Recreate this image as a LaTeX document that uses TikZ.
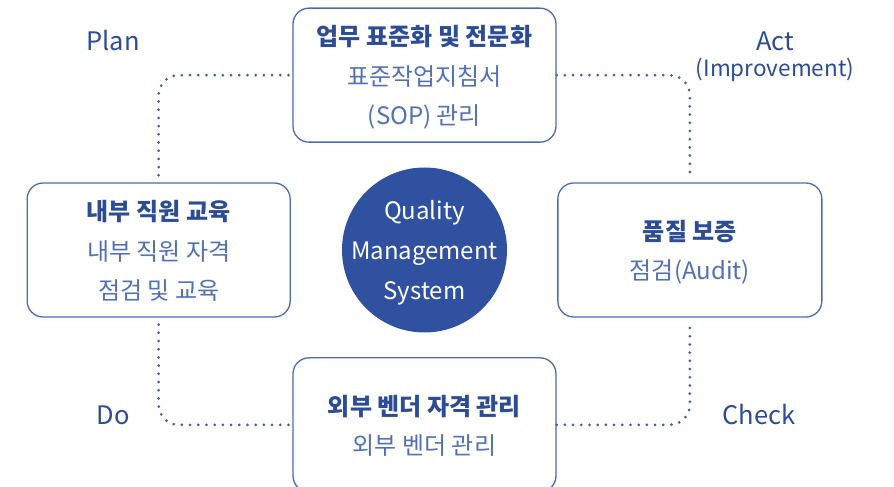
\documentclass[tikz,border=0pt]{standalone}
\usepackage{fontspec}
\setmainfont{Noto Sans CJK KR}
\usepackage{xcolor}
\usetikzlibrary{positioning}
\definecolor{qmsblue}{HTML}{2F51A0}
\definecolor{boxline}{HTML}{4A6BB2}
\definecolor{titletext}{HTML}{2C4C96}
\definecolor{subtext}{HTML}{5270B5}
\definecolor{dotblue}{HTML}{3D60AD}

\begin{document}
\begin{tikzpicture}[x=1pt,y=1pt,
  stage/.style={draw=boxline,line width=1.3pt,rounded corners=16pt,minimum width=263pt,minimum height=134pt,align=center,text=subtext,text depth=-1pt,font=\fontsize{24}{39.5}\selectfont},
  dotline/.style={draw=dotblue,line width=3pt,line cap=round,dash pattern=on 0pt off 8.2pt,rounded corners=20pt},
  phase/.style={text=titletext,font=\fontsize{25.5}{28}\selectfont}]
  \useasboundingbox (0,0) rectangle (894,487);
  % Centre
  \node (qms) [circle,fill=qmsblue,minimum size=165pt,inner sep=0pt] at (424.5,237) {};
  \node (qmstext) [text=white,align=center,text depth=-1pt,font=\fontsize{24}{40}\selectfont] at (qms) {Quality\\Management\\System};
  % Standards
  \node (std) [stage,above=24.5pt of qms] {\textbf{\color{titletext}업무 표준화 및 전문화}\\표준작업지침서\\(SOP) 관리};
  % Training
  \node (edu) [stage,left=51pt of qms] {\textbf{\color{titletext}내부 직원 교육}\\내부 직원 자격\\점검 및 교육};
  % Assurance
  \node (qa) [stage,right=50pt of qms,minimum width=264pt] {\textbf{\color{titletext}품질 보증}\\점검(Audit)};
  % Vendors
  \node (vendor) [stage,below=24.5pt of qms] {\textbf{\color{titletext}외부 벤더 자격 관리}\\외부 벤더 관리};
  % PDCA labels
  \node (plan) [phase] at (113,446) {Plan};
  \node (act) [phase] at (775,446) {Act};
  \node (impr) [phase,font=\fontsize{22.5}{26}\selectfont] at (775,417) {(Improvement)};
  \node (do) [phase] at (113,72) {Do};
  \node (check) [phase] at (759,72) {Check};
  % dotted cycle
  \draw[dotline,shorten <=7pt] (edu.north) |- (std.west);
  \draw[dotline,shorten >=7pt] (std.east) -| (qa.north);
  \draw[dotline,shorten >=7pt] (vendor.east) -| (qa.south);
  \draw[dotline,shorten <=7pt] (edu.south) |- (vendor.west);
\end{tikzpicture}
\end{document}
